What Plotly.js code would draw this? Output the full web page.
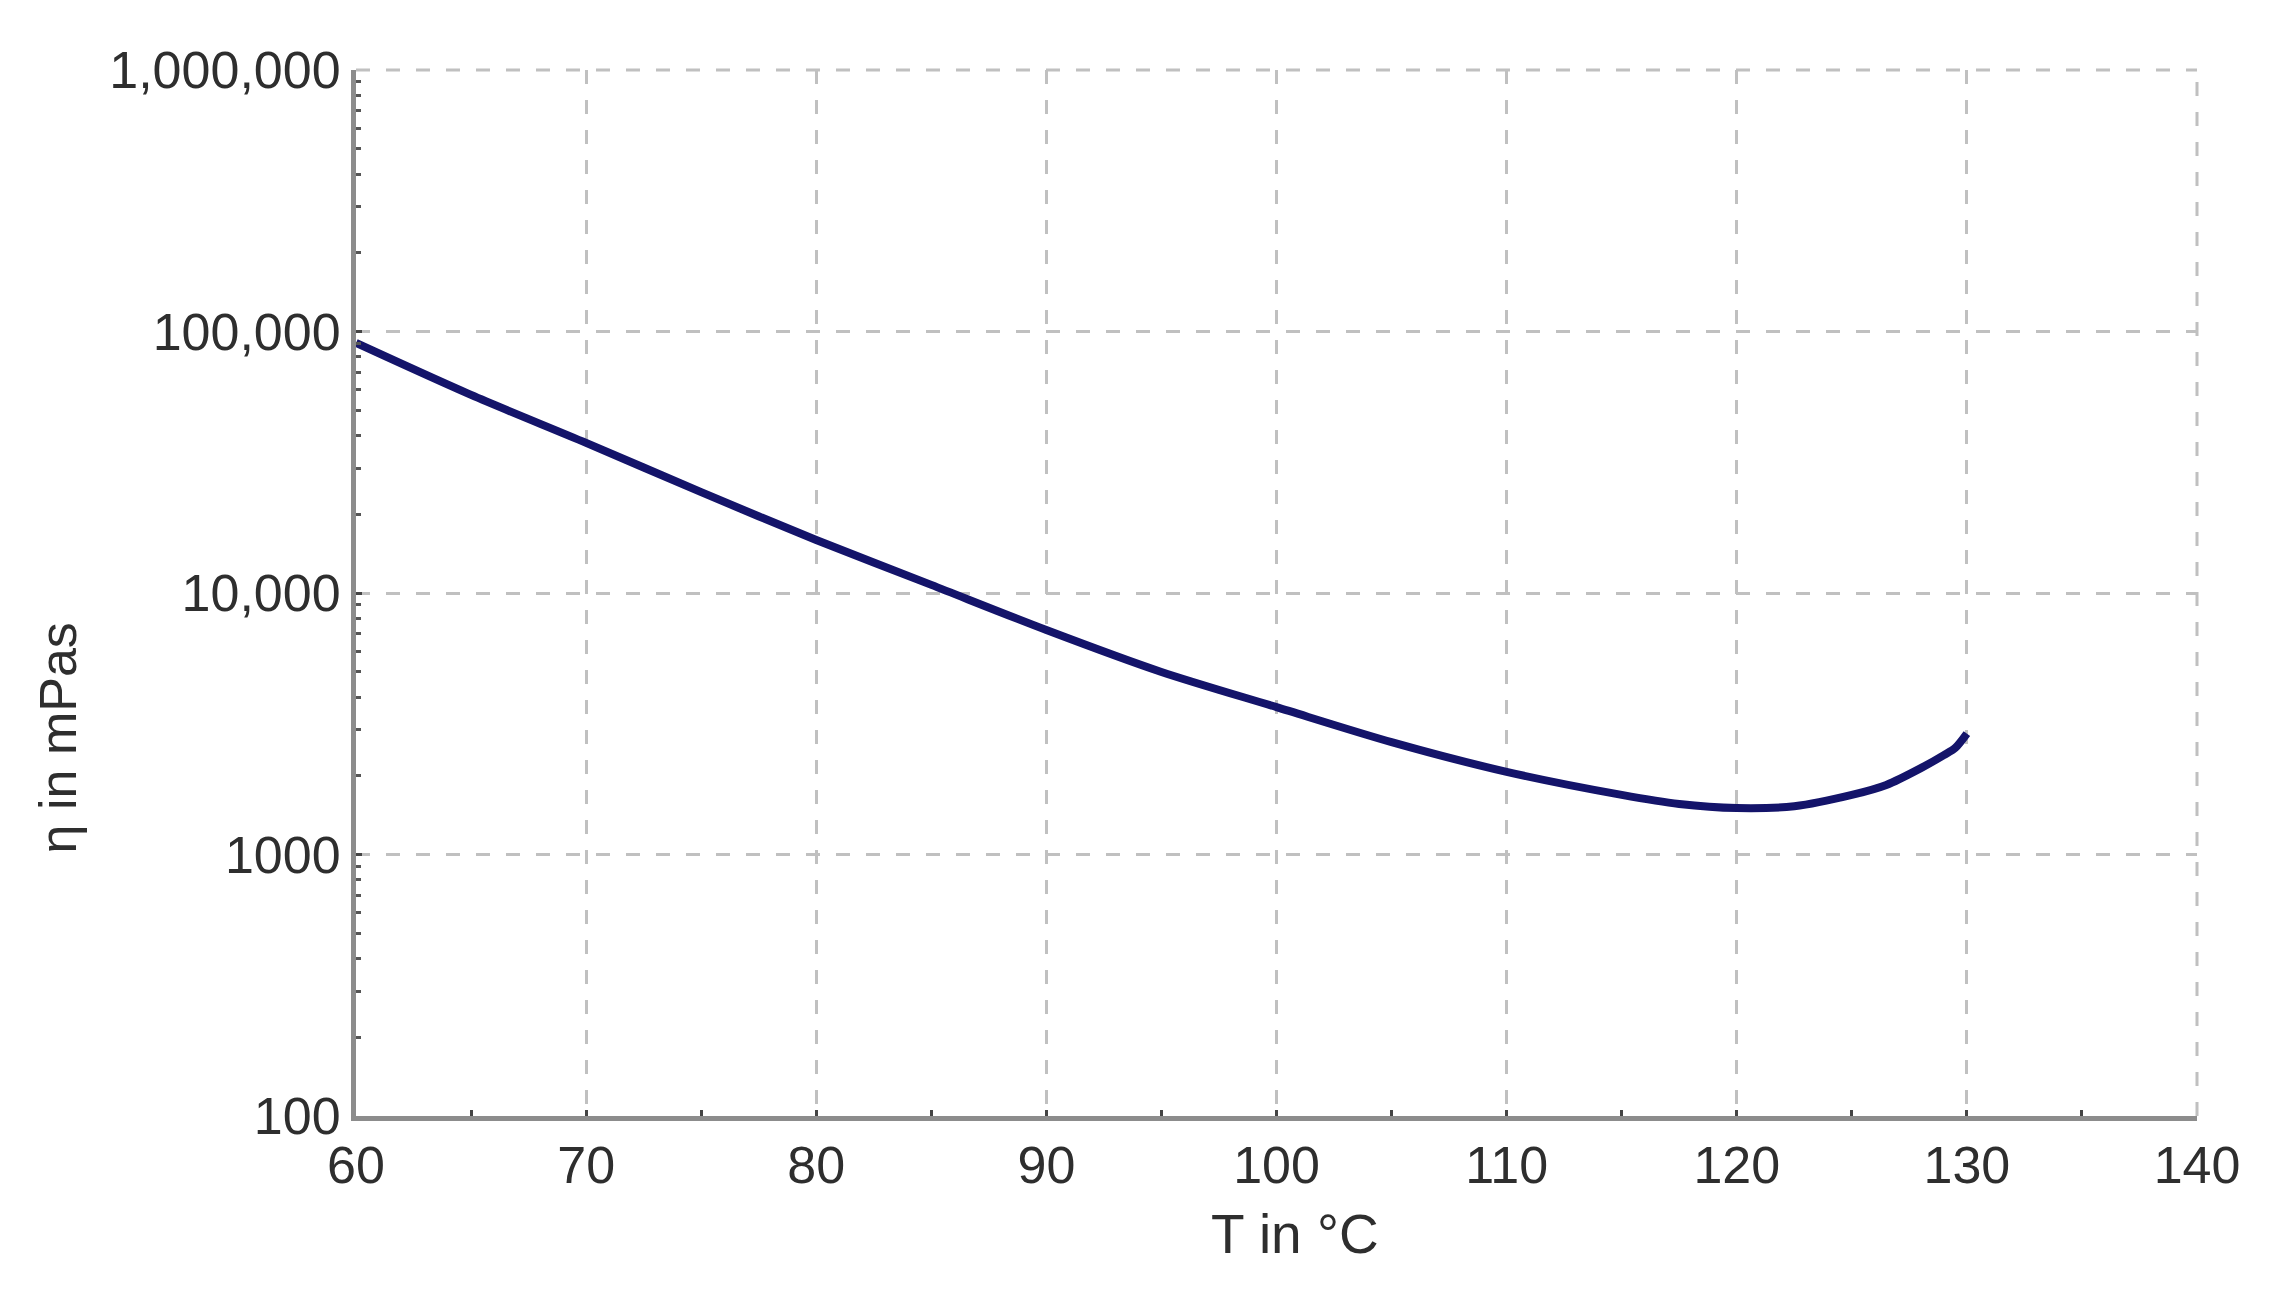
<!DOCTYPE html>
<html>
<head>
<meta charset="utf-8">
<script src="https://cdn.plot.ly/plotly-3.0.1.min.js"></script>
<style>
  html, body { margin: 0; padding: 0; background: #fff; }
  #plotDiv { width: 2281px; height: 1289px; }
</style>
</head>
<body>
<div id="plotDiv"></div>
<script>
// viscosity curve
var temps = [60, 65, 70, 75, 80, 85, 90, 95, 100, 105, 110, 115, 117.5, 120, 122.5, 125, 126.5, 128, 129, 129.5, 130];
var visc = [90400, 57200, 37500, 24300, 15950, 10740, 7220, 4990, 3660, 2690, 2070, 1690, 1560, 1505, 1530, 1690, 1845, 2140, 2400, 2560, 2900];

var xTicks = [60, 70, 80, 90, 100, 110, 120, 130, 140];
var yTicks = [100, 1000, 10000, 100000, 1000000];
var yTickText = ['100', '1000', '10,000', '100,000', '1,000,000'];

var curve = {
  type: 'scatter',
  mode: 'lines',
  x: temps,
  y: visc,
  line: { color: '#14146a', width: 8, shape: 'spline', smoothing: 0.8 },
  showlegend: false
};

var gridStyle = {
  showgrid: true,
  gridcolor: '#c0c0c0',
  gridwidth: 3,
  griddash: '14px,16px',
  showline: true,
  linecolor: '#8c8c8c',
  linewidth: 5,
  zeroline: false
};

// plotly skips the grid lines on the far edges, so draw those two
var edgeLine = { color: '#c0c0c0', width: 3, dash: '14px,16px' };

var layout = {
  width: 2281,
  height: 1289,
  margin: { l: 356, r: 84, t: 70, b: 173 },
  paper_bgcolor: '#fff',
  plot_bgcolor: '#fff',
  font: { family: 'Liberation Sans, Arial, sans-serif', color: '#2e2e2e', size: 50 },
  xaxis: Object.assign({}, gridStyle, {
    range: [60, 140],
    tickvals: xTicks,
    ticks: 'inside',
    ticklen: 6,
    tickwidth: 3,
    tickcolor: '#444',
    tickfont: { size: 52 },
    ticklabelstandoff: 0,
    minor: { dtick: 5, ticks: 'inside', ticklen: 6, tickwidth: 3, tickcolor: '#444', showgrid: false }
  }),
  yaxis: Object.assign({}, gridStyle, {
    type: 'log',
    range: [2, 6],
    tickvals: yTicks,
    ticktext: yTickText,
    ticks: 'inside',
    ticklen: 6,
    tickwidth: 3,
    tickcolor: '#444',
    tickfont: { size: 52 },
    ticklabelstandoff: 0,
    minor: { dtick: 'D1', ticks: 'inside', ticklen: 5, tickwidth: 3, tickcolor: '#555', showgrid: false }
  }),
  shapes: [
    { type: 'line', xref: 'paper', yref: 'paper', x0: 0, x1: 1, y0: 1, y1: 1, line: edgeLine, layer: 'below' },
    { type: 'line', xref: 'paper', yref: 'paper', x0: 1, x1: 1, y0: 0, y1: 1, line: edgeLine, layer: 'below' }
  ],
  annotations: [
    { text: 'T in °C', xref: 'paper', yref: 'paper', x: 0.51, y: 0, yshift: -118,
      xanchor: 'center', yanchor: 'middle', showarrow: false, font: { size: 55 } },
    { text: 'η in mPas', xref: 'paper', yref: 'paper', x: 0, xshift: -298, y: 0.361,
      xanchor: 'center', yanchor: 'middle', textangle: -90, showarrow: false, font: { size: 52 } }
  ]
};

Plotly.newPlot('plotDiv', [curve], layout, { displayModeBar: false });
</script>
</body>
</html>
